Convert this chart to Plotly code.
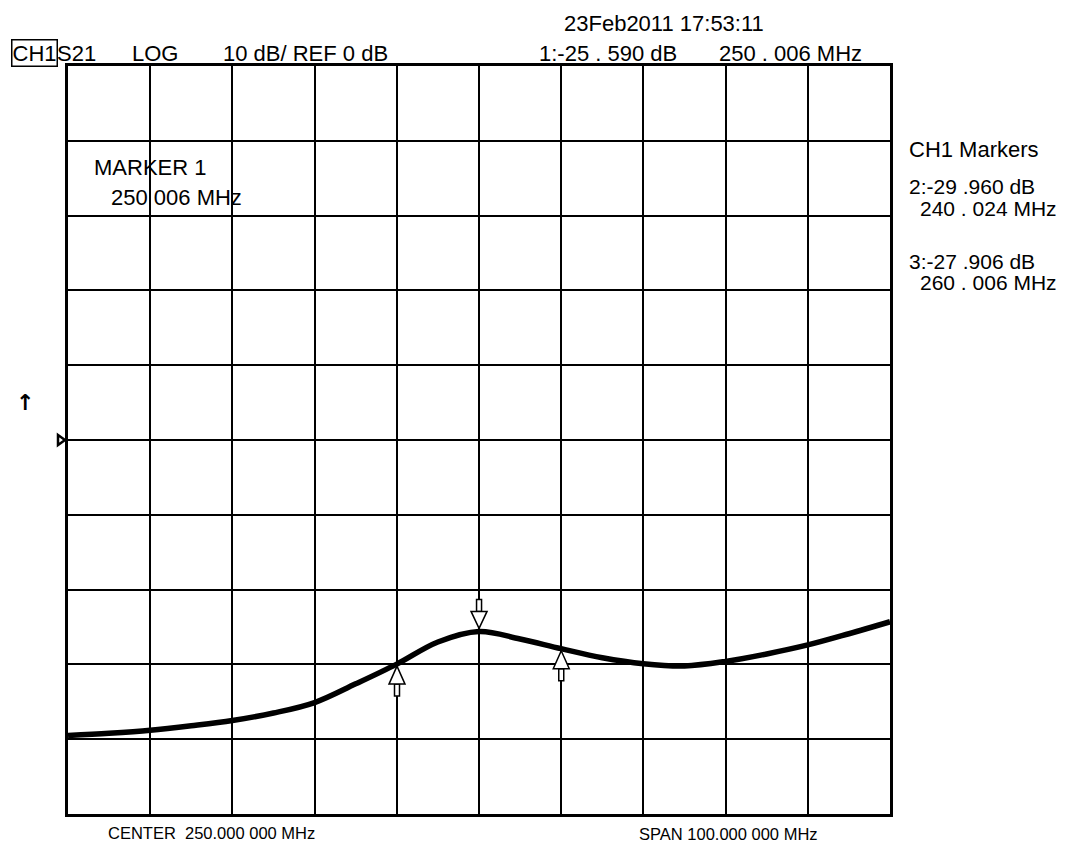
import plotly.graph_objects as go

# ---- data ----
freq_mhz = [200, 205, 210, 215, 220, 225, 230, 235, 240, 245, 250,
            255, 260, 265, 270, 275, 280, 285, 290, 295, 300]
s21_db = [-39.5, -39.2, -38.8, -38.2, -37.5, -36.5, -35.1, -32.6, -29.96, -27.0, -25.59,
          -26.6, -27.9, -29.1, -29.9, -30.2, -29.6, -28.6, -27.4, -25.9, -24.3]

marker_freq = [250.006, 240.024, 260.006]
marker_db = [-25.590, -29.960, -27.906]
marker_active = [True, False, False]

ref_level_db = 0
center_mhz = 250
span_mhz = 100
scale_db_per_div = 10

# ---- layout geometry (page pixels; the page body has an 8px margin) ----
OFF = 8
W, H = 1068 - OFF, 846 - OFF
PL, PR, PT, PB = 68, 890, 66, 814          # plot box in page pixels
L, T = PL - OFF, PT - OFF
R, B = W - (PR - OFF), H - (PB - OFF)
PW, PH = PR - PL, PB - PT


def px(x):
    return (x - PL) / PW


def py(y):
    return (PB - y) / PH


FONT = "Liberation Sans, Arial, sans-serif"

fig = go.Figure()
fig.add_trace(go.Scatter(
    x=freq_mhz, y=s21_db, mode="lines",
    line=dict(color="black", width=5.5, shape="spline", smoothing=1.0),
    hoverinfo="skip", showlegend=False,
))

shapes = []
for f, d, act in zip(marker_freq, marker_db, marker_active):
    if act:
        tri = "M0,3 L-8,20 L8,20 Z"
        stem = "M-2.5,20 L-2.5,32 L2.5,32 L2.5,20 Z"
    else:
        tri = "M0,-2 L-8,-20 L8,-20 Z"
        stem = "M-2.5,-20 L-2.5,-32 L2.5,-32 L2.5,-20 Z"
    for p in (stem, tri):
        shapes.append(dict(
            type="path", xref="x", yref="y", xsizemode="pixel", ysizemode="pixel",
            xanchor=f, yanchor=d, path=p,
            line=dict(color="black", width=1.5), fillcolor="white", layer="above",
        ))

# reference-level indicator on the left edge
shapes.append(dict(
    type="path", xref="paper", yref="y", xsizemode="pixel", ysizemode="pixel",
    xanchor=0, yanchor=ref_level_db, path="M-10,5 L-3,0 L-10,-5 Z",
    line=dict(color="black", width=2.5), fillcolor="white", layer="above",
))


def txt(x, y, s, size=22, anchor="left", **kw):
    return dict(x=px(x), y=py(y), xref="paper", yref="paper", text=s,
                showarrow=False, xanchor=anchor, yanchor="middle",
                font=dict(family=FONT, size=size, color="black"), **kw)


ann = [
    txt(11, 53, "CH1", bordercolor="black", borderwidth=1.5, borderpad=0),
    txt(55, 53, "S21"),
    txt(130, 53, "LOG"),
    txt(221, 53, "10 dB/ REF 0 dB"),
    txt(562, 23, "23Feb2011 17:53:11"),
    txt(537, 53, "1:-25 . 590 dB"),
    txt(717, 53, "250 . 006 MHz"),
    txt(92, 167, "MARKER 1"),
    txt(109, 197, "250 006 MHz"),
    txt(907, 149, "CH1 Markers"),
    txt(907, 186, "2:-29 .960 dB", size=21),
    txt(918, 208, "240 . 024 MHz", size=21),
    txt(907, 261, "3:-27 .906 dB", size=21),
    txt(918, 282, "260 . 006 MHz", size=21),
    txt(106, 833, "CENTER  250.000 000 MHz", size=16.5),
    txt(637, 834, "SPAN 100.000 000 MHz", size=16.5),
    dict(x=px(25), y=py(402), xref="paper", yref="paper", text="<b>↑</b>",
         showarrow=False, xanchor="center", yanchor="middle",
         font=dict(family="DejaVu Sans", size=22, color="black")),
]

x0 = center_mhz - span_mhz / 2
x1 = center_mhz + span_mhz / 2
y0 = ref_level_db - 5 * scale_db_per_div
y1 = ref_level_db + 5 * scale_db_per_div

fig.update_layout(
    width=W, height=H,
    margin=dict(l=L, r=R, t=T, b=B, pad=0),
    paper_bgcolor="white", plot_bgcolor="white",
    shapes=shapes, annotations=ann,
    xaxis=dict(range=[x0, x1], dtick=span_mhz / 10, tick0=x0, showgrid=True,
               gridcolor="black", gridwidth=1.5, zeroline=False,
               showline=True, linecolor="black", linewidth=3, mirror=True,
               showticklabels=False, ticks="", fixedrange=True),
    yaxis=dict(range=[y0, y1], dtick=scale_db_per_div, tick0=y0, showgrid=True,
               gridcolor="black", gridwidth=1.5, zeroline=False,
               showline=True, linecolor="black", linewidth=3, mirror=True,
               showticklabels=False, ticks="", fixedrange=True),
    showlegend=False,
)

fig.write_html("out.html")
